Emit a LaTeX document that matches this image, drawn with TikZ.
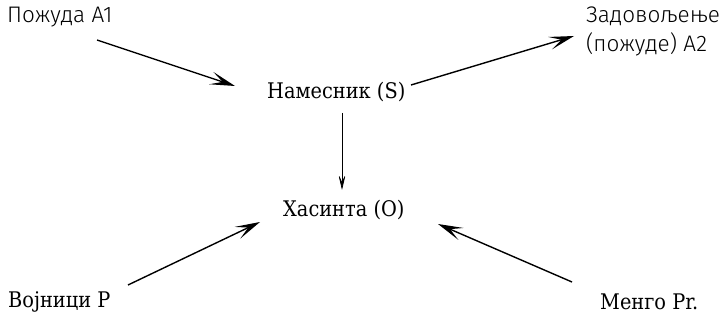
\documentclass[tikz,border=0pt]{standalone}
\usepackage{fontspec}
\setmainfont{DejaVu Serif Condensed}
\newfontfamily\labsans{Fira Sans Light}
\usetikzlibrary{arrows.meta}
\tikzset{
  lbl/.style={anchor=west, inner sep=0pt, font=\fontsize{21.5}{24}\selectfont},
  slbl/.style={lbl, font=\labsans\fontsize{22.5}{29}\selectfont, align=left},
  bigarr/.style={line width=1.4pt, -{Stealth[length=25pt, width=13pt, inset=12pt]}},
  thinarr/.style={line width=0.7pt, -{Stealth[length=17pt, width=8pt, inset=9pt]}}
}
\begin{document}
\begin{tikzpicture}[x=1pt,y=-1pt]
\useasboundingbox (0,0) rectangle (722,320);
\node[slbl] (a1) at (7,17) {Пожуда А1};
\node[slbl] (a2) at (586,31) {Задовољење\\(пожуде) А2};
\node[lbl] (s) at (267,92) {Намесник (S)};
\node[lbl] (o) at (283,210) {Хасинта (О)};
\node[lbl] (p) at (8,302) {Војници Р};
\node[lbl] (pr) at (600,302) {Менго Pr.};
\coordinate (a1s) at (97,40);
\coordinate (a1e) at (235,86);
\coordinate (a2s) at (411,85);
\coordinate (a2e) at (574,36);
\coordinate (ss) at (342,113);
\coordinate (se) at (342,190);
\coordinate (ps) at (128,285);
\coordinate (pe) at (260,222);
\coordinate (rs) at (572,282);
\coordinate (re) at (438,224);
\draw[bigarr] (a1s) -- (a1e);
\draw[bigarr] (a2s) -- (a2e);
\draw[thinarr] (ss) -- (se);
\draw[bigarr] (ps) -- (pe);
\draw[bigarr] (rs) -- (re);
\end{tikzpicture}
\end{document}
